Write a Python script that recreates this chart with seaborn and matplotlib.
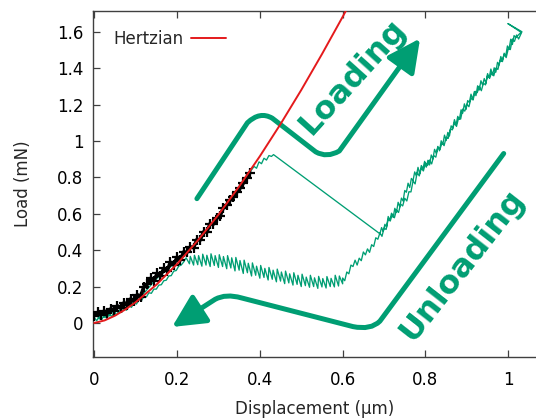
import matplotlib
matplotlib.use("Agg")
import numpy as np
import pandas as pd
import matplotlib.pyplot as plt
import seaborn as sns
from matplotlib.path import Path
from matplotlib.patches import FancyArrowPatch
from matplotlib.ticker import FuncFormatter

# ---------------------------------------------------------------------------
# Nanoindentation load-displacement data (displacement in um, load in mN)
# ---------------------------------------------------------------------------

# initial elastic loading (green), up to the pop-in
load1_x = [0.000, 0.006, 0.012, 0.018, 0.024, 0.030, 0.036, 0.042, 0.048, 0.054,
           0.060, 0.066, 0.072, 0.080, 0.090, 0.100, 0.115, 0.130, 0.145, 0.160,
           0.175, 0.190, 0.205, 0.220, 0.235, 0.250, 0.265, 0.280, 0.295, 0.310,
           0.325, 0.340, 0.355, 0.370, 0.378, 0.386, 0.392, 0.398, 0.404, 0.410,
           0.416, 0.422, 0.428, 0.433]
load1_y = [0.030, 0.050, 0.022, 0.058, 0.030, 0.062, 0.038, 0.070, 0.048, 0.078,
           0.058, 0.090, 0.070, 0.100, 0.105, 0.125, 0.150, 0.190, 0.230, 0.265,
           0.290, 0.320, 0.350, 0.385, 0.415, 0.450, 0.490, 0.530, 0.570, 0.620,
           0.660, 0.700, 0.745, 0.800, 0.835, 0.860, 0.850, 0.885, 0.875, 0.905,
           0.895, 0.920, 0.915, 0.925]

# loading after the pop-in, up to maximum load and the hold
load2_x = [0.690, 0.694, 0.698, 0.702, 0.706, 0.710, 0.714, 0.718, 0.722, 0.726,
           0.730, 0.734, 0.738, 0.742, 0.746, 0.750, 0.754, 0.758, 0.762, 0.766,
           0.770, 0.774, 0.778, 0.782, 0.786, 0.790, 0.794, 0.798, 0.802, 0.806,
           0.810, 0.814, 0.818, 0.822, 0.826, 0.830, 0.834, 0.838, 0.842, 0.846,
           0.850, 0.854, 0.858, 0.862, 0.866, 0.870, 0.874, 0.878, 0.882, 0.886,
           0.890, 0.894, 0.898, 0.902, 0.906, 0.910, 0.914, 0.918, 0.922, 0.926,
           0.930, 0.934, 0.938, 0.942, 0.946, 0.950, 0.954, 0.958, 0.962, 0.966,
           0.970, 0.974, 0.978, 0.982, 0.986, 0.990, 0.994, 0.998, 1.002, 1.006,
           1.010, 1.014, 1.018, 1.031, 0.999, 1.033]
load2_y = [0.490, 0.524, 0.503, 0.542, 0.526, 0.585, 0.564, 0.603, 0.580, 0.630,
           0.608, 0.663, 0.638, 0.686, 0.670, 0.728, 0.718, 0.768, 0.744, 0.794,
           0.782, 0.830, 0.808, 0.855, 0.820, 0.865, 0.848, 0.888, 0.856, 0.894,
           0.868, 0.923, 0.901, 0.954, 0.932, 0.970, 0.946, 1.001, 0.982, 1.032,
           1.002, 1.047, 1.028, 1.083, 1.070, 1.117, 1.089, 1.135, 1.119, 1.171,
           1.153, 1.204, 1.173, 1.222, 1.211, 1.257, 1.229, 1.271, 1.249, 1.303,
           1.280, 1.331, 1.307, 1.343, 1.317, 1.370, 1.348, 1.395, 1.362, 1.402,
           1.378, 1.432, 1.418, 1.464, 1.436, 1.482, 1.468, 1.522, 1.506, 1.559,
           1.530, 1.579, 1.568, 1.597, 1.645, 1.600]

# unloading from maximum load
unload_x = [1.025, 1.020, 1.015, 1.010, 1.005, 1.000, 0.995, 0.990, 0.985, 0.980,
            0.975, 0.970, 0.965, 0.960, 0.955, 0.950, 0.945, 0.940, 0.935, 0.930,
            0.925, 0.920, 0.915, 0.910, 0.905, 0.900, 0.895, 0.890, 0.885, 0.880,
            0.875, 0.870, 0.865, 0.860, 0.855, 0.850, 0.845, 0.840, 0.835, 0.830,
            0.825, 0.820, 0.815, 0.810, 0.805, 0.800, 0.795, 0.790, 0.785, 0.780,
            0.775, 0.770, 0.765, 0.760, 0.755, 0.750, 0.745, 0.740, 0.735, 0.730,
            0.725, 0.720, 0.715, 0.710, 0.705, 0.700, 0.695, 0.690, 0.685, 0.680,
            0.675, 0.670, 0.665, 0.660, 0.655, 0.650, 0.645, 0.640, 0.635, 0.630,
            0.625, 0.620, 0.615, 0.610, 0.605, 0.600]
unload_y = [1.560, 1.582, 1.547, 1.560, 1.502, 1.506, 1.458, 1.475, 1.437, 1.443,
            1.393, 1.400, 1.358, 1.377, 1.344, 1.360, 1.308, 1.318, 1.276, 1.300,
            1.265, 1.273, 1.225, 1.235, 1.188, 1.202, 1.164, 1.175, 1.120, 1.126,
            1.080, 1.100, 1.061, 1.066, 1.014, 1.020, 0.974, 0.990, 0.954, 0.965,
            0.911, 0.919, 0.874, 0.895, 0.865, 0.878, 0.835, 0.850, 0.808, 0.827,
            0.764, 0.780, 0.720, 0.721, 0.670, 0.685, 0.643, 0.653, 0.607, 0.620,
            0.578, 0.597, 0.560, 0.570, 0.514, 0.521, 0.476, 0.495, 0.460, 0.468,
            0.420, 0.430, 0.388, 0.407, 0.374, 0.390, 0.342, 0.356, 0.318, 0.345,
            0.310, 0.318, 0.270, 0.280, 0.232, 0.247]

# low-load unloading tail (oscillating signal) back to zero
tail_x = [0.600, 0.592, 0.590, 0.582, 0.580, 0.572, 0.570, 0.562, 0.560, 0.552,
          0.550, 0.542, 0.540, 0.532, 0.530, 0.522, 0.520, 0.512, 0.510, 0.502,
          0.500, 0.492, 0.490, 0.482, 0.480, 0.472, 0.470, 0.462, 0.460, 0.452,
          0.450, 0.442, 0.440, 0.432, 0.430, 0.422, 0.420, 0.412, 0.410, 0.402,
          0.400, 0.392, 0.390, 0.382, 0.380, 0.372, 0.370, 0.362, 0.360, 0.352,
          0.350, 0.342, 0.340, 0.332, 0.330, 0.322, 0.320, 0.312, 0.310, 0.302,
          0.300, 0.292, 0.290, 0.282, 0.280, 0.272, 0.270, 0.262, 0.260, 0.252,
          0.250, 0.242, 0.240, 0.232, 0.230, 0.222,
          0.216, 0.210, 0.204, 0.198, 0.192, 0.186, 0.180, 0.174, 0.168, 0.162,
          0.156, 0.150, 0.144, 0.138, 0.132, 0.126, 0.120, 0.114, 0.108, 0.102,
          0.096, 0.090, 0.084, 0.078, 0.072, 0.066, 0.060, 0.054, 0.048, 0.042,
          0.036, 0.030, 0.024, 0.018, 0.012, 0.006, 0.000]
tail_y = [0.215, 0.258, 0.203, 0.262, 0.198, 0.245, 0.200, 0.255, 0.192, 0.244,
          0.198, 0.256, 0.190, 0.248, 0.200, 0.262, 0.196, 0.252, 0.205, 0.268,
          0.200, 0.262, 0.212, 0.276, 0.208, 0.270, 0.220, 0.285, 0.216, 0.280,
          0.230, 0.296, 0.226, 0.290, 0.240, 0.305, 0.236, 0.300, 0.250, 0.316,
          0.246, 0.312, 0.262, 0.330, 0.258, 0.328, 0.276, 0.345, 0.272, 0.343,
          0.290, 0.360, 0.286, 0.358, 0.302, 0.370, 0.298, 0.365, 0.310, 0.375,
          0.305, 0.370, 0.316, 0.380, 0.310, 0.372, 0.318, 0.378, 0.312, 0.370,
          0.320, 0.372, 0.318, 0.366, 0.325, 0.358,
          0.335, 0.318, 0.312, 0.288, 0.285, 0.260, 0.258, 0.235, 0.232, 0.210,
          0.208, 0.186, 0.186, 0.163, 0.166, 0.143, 0.146, 0.122, 0.128, 0.104,
          0.110, 0.086, 0.094, 0.070, 0.080, 0.058, 0.068, 0.045, 0.058, 0.035,
          0.050, 0.025, 0.044, 0.018, 0.038, 0.012, 0.030]

# loading segment used for the Hertzian fit (black)
fit_x = [0.000, 0.008, 0.016, 0.024, 0.032, 0.040, 0.048, 0.056, 0.064, 0.072,
         0.080, 0.088, 0.096, 0.104, 0.112, 0.120, 0.128, 0.136, 0.144, 0.152,
         0.160, 0.168, 0.176, 0.184, 0.192, 0.200, 0.208, 0.216, 0.224, 0.232,
         0.240, 0.248, 0.256, 0.264, 0.272, 0.280, 0.288, 0.296, 0.304, 0.312,
         0.320, 0.328, 0.336, 0.344, 0.352, 0.360, 0.368, 0.376]
fit_y = [0.040, 0.058, 0.045, 0.066, 0.055, 0.078, 0.068, 0.094, 0.082, 0.112,
         0.098, 0.132, 0.120, 0.155, 0.145, 0.200, 0.212, 0.245, 0.232, 0.272,
         0.258, 0.300, 0.286, 0.334, 0.318, 0.362, 0.346, 0.390, 0.388, 0.418,
         0.414, 0.458, 0.456, 0.500, 0.500, 0.546, 0.544, 0.575, 0.588, 0.634,
         0.648, 0.674, 0.690, 0.718, 0.740, 0.768, 0.796, 0.826]

# Hertzian contact model curve
hertz_x = [0.000, 0.025, 0.050, 0.075, 0.100, 0.150, 0.200, 0.250, 0.300, 0.350,
           0.400, 0.450, 0.500, 0.550, 0.600, 0.620]
hertz_y = [0.000, 0.014, 0.040, 0.074, 0.114, 0.210, 0.324, 0.453, 0.595, 0.750,
           0.916, 1.093, 1.280, 1.477, 1.682, 1.767]

x_ticks = [0, 0.2, 0.4, 0.6, 0.8, 1.0]
y_ticks = [0, 0.2, 0.4, 0.6, 0.8, 1.0, 1.2, 1.4, 1.6]

# guide arrows (path vertices in data units: M = move, L = line, Q = quadratic pair)
loading_arrow = [("M", 0.248, 0.683), ("L", 0.370, 1.100),
                 ("Q", 0.400, 1.165), ("Q", 0.430, 1.125),
                 ("L", 0.535, 0.940),
                 ("Q", 0.562, 0.905), ("Q", 0.592, 0.945),
                 ("L", 0.787, 1.563)]
unloading_arrow = [("M", 0.989, 0.931), ("L", 0.690, 0.010),
                   ("Q", 0.668, -0.040), ("Q", 0.625, -0.020),
                   ("L", 0.355, 0.138),
                   ("Q", 0.318, 0.162), ("Q", 0.292, 0.130),
                   ("L", 0.188, -0.022)]

GREEN = "#009e73"

# ---------------------------------------------------------------------------
sns.set_theme(style="white")
plt.rcParams["font.family"] = ["DejaVu Sans"]

fig = plt.figure(figsize=(5.36, 4.18), dpi=100)
ax = fig.add_axes([93 / 536, (418 - 357) / 418, (536 - 93) / 536, (357 - 11) / 418])

cycle = pd.DataFrame({
    "disp": load1_x + load2_x + unload_x + tail_x,
    "load": load1_y + load2_y + unload_y + tail_y,
})
fit = pd.DataFrame({"disp": fit_x, "load": fit_y})
hertz = pd.DataFrame({"disp": hertz_x, "load": hertz_y})

sns.lineplot(data=cycle, x="disp", y="load", sort=False, estimator=None,
             color=GREEN, lw=0.95, ax=ax, zorder=2)
sns.lineplot(data=fit, x="disp", y="load", sort=False, estimator=None,
             color="black", lw=2.6, marker="+", markersize=7, mew=1.6,
             markeredgecolor="black", ax=ax, zorder=3)
sns.lineplot(data=hertz, x="disp", y="load", sort=False, estimator=None,
             color="#e41a1c", lw=1.4, ax=ax, zorder=4, label="Hertzian")


def build_path(spec):
    codes_map = {"M": Path.MOVETO, "L": Path.LINETO, "Q": Path.CURVE3}
    verts = [(x, y) for _, x, y in spec]
    codes = [codes_map[c] for c, _, _ in spec]
    return Path(verts, codes)


for spec in (loading_arrow, unloading_arrow):
    arr = FancyArrowPatch(path=build_path(spec),
                          arrowstyle="-|>,head_length=1.0,head_width=0.5",
                          mutation_scale=20, color=GREEN, lw=3.6,
                          capstyle="round", joinstyle="round", zorder=1.5)
    ax.add_patch(arr)

ax.text(0.623, 1.35, "Loading", rotation=48, rotation_mode="anchor",
        ha="center", va="center", fontsize=23, fontweight="bold", color=GREEN)
ax.text(0.889, 0.317, "Unloading", rotation=52, rotation_mode="anchor",
        ha="center", va="center", fontsize=23, fontweight="bold", color=GREEN)

ax.set_xlim(-0.003, 1.067)
ax.set_ylim(-0.187, 1.714)
ax.set_xticks(x_ticks)
ax.set_yticks(y_ticks)
fmt = FuncFormatter(lambda v, p: f"{v:g}")
ax.xaxis.set_major_formatter(fmt)
ax.yaxis.set_major_formatter(fmt)

for side in ("left", "bottom", "top"):
    ax.spines[side].set_color("#404040")
    ax.spines[side].set_linewidth(1.0)
ax.spines["right"].set_visible(False)
ax.tick_params(axis="both", direction="in", length=5, width=0.9,
               color="#404040", labelsize=12, labelcolor="black")
ax.tick_params(axis="x", top=True, bottom=True, pad=10)
ax.tick_params(axis="y", left=True, right=False, pad=7)

ax.set_xlabel("Displacement (μm)", fontsize=12, labelpad=8)
ax.set_ylabel("Load (mN)", fontsize=12, labelpad=18)

leg = ax.legend(loc="upper left", bbox_to_anchor=(0.045, 0.945), frameon=False,
                markerfirst=False, fontsize=12, handlelength=2.1,
                handletextpad=0.45, borderpad=0, borderaxespad=0)

fig.savefig("out.png", dpi=100)
